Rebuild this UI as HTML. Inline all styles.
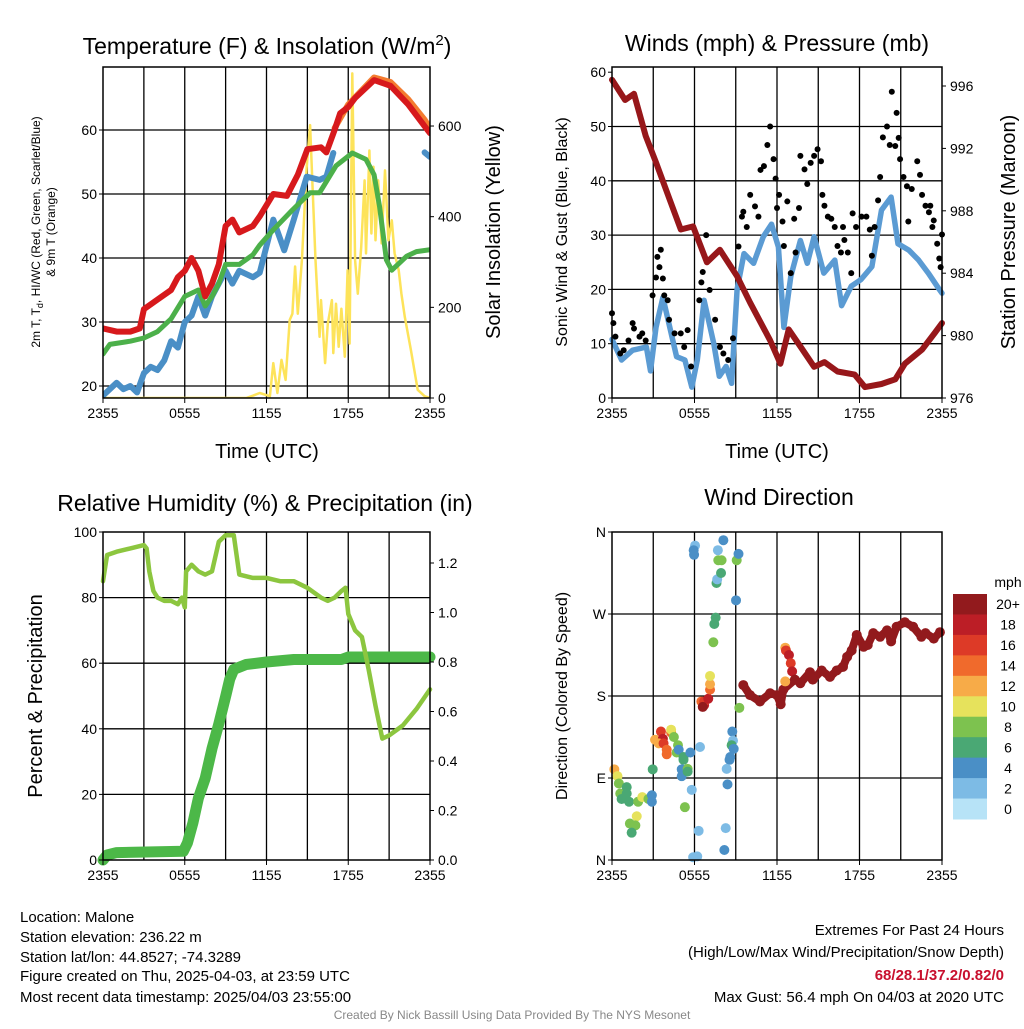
<!DOCTYPE html>
<html><head><meta charset="utf-8"><style>
body{margin:0;background:#fff;}
svg text{font-family:"Liberation Sans",Arial,sans-serif;fill:#000;}
</style></head><body>
<svg id="c" width="1024" height="1024" xmlns="http://www.w3.org/2000/svg"></svg>
<script>
// ---- data (hours since 2355 UTC) ----
const xTickHours=[0,6,12,18,24];
const xTickLabels=["2355","0555","1155","1755","2355"];
const redH=[0,1,2,2.7,3,4,5,5.5,6,6.5,7,7.5,8,8.5,9,9.5,10,11,11.5,12.5,13.5,14.3,15,16,16.4,17,17.4,18,18.5,19.9,21.1,22.4,23.6,24];
const redV=[29,28.5,28.5,29,32,33.5,35,37,38,40,38,34,36,39,45,46,44,45,46.5,50,49.7,53,57,57.3,56.5,60,62.6,63.6,65,67.8,66.9,64,60.6,59.5];
const orangeH=[17,18,19.9,21.1,22.4,23.6,24];
const orangeV=[60.3,64,68.2,67.5,64.8,61.6,60.3];
const greenH=[0,0.5,2,3,4,5,6,7,7.5,8,8.5,9,10,11,11.5,12.5,13.9,15.2,15.9,17.1,18.3,19.3,19.9,20.3,20.8,21.2,22.3,23,24];
const greenV=[25,26.5,27,27.5,28.5,30.5,34,35,32.5,34,36,39,39,40.5,42,44.4,47.5,50.2,50.2,54.4,56.4,55.4,53,48,39.7,38.1,40.3,41,41.3];
const blueH=[0,0.5,1,1.5,2,2.5,3,3.5,4,4.5,5,5.5,6,6.5,7,7.5,8,8.5,9,9.5,10,11,11.5,12.5,13.3,14,14.95,15.9,16.4,16.9];
const blueV=[18.5,19.5,20.5,19.5,20,19,22,23,22.5,24,27,26,30,31,34,31,34,36,38,36,38,37,37.7,46,41.2,46,52.7,52.2,52.7,56.4];
const blue2H=[23.6,24];
const blue2V=[56.5,55.8];
const solarH=[0,10.5,11,11.5,12.25,12.5,12.8,13.1,13.4,13.7,13.9,14.1,14.3,14.6,14.95,15.2,15.4,15.6,15.9,16.0,16.3,16.5,16.8,16.9,17.1,17.3,17.5,17.75,17.95,18.1,18.3,18.5,18.7,18.95,19.2,19.3,19.55,19.7,19.85,20.0,20.2,20.45,20.7,20.95,21.2,21.4,21.7,21.9,22.15,22.6,23.1,23.6,24];
const solarV=[0,0,5,11,4,77,11,84,40,172,186,290,186,304,510,602,452,304,135,216,77,164,216,99,208,113,197,91,282,120,716,304,230,333,480,319,546,363,510,348,480,341,502,348,392,319,282,230,179,106,18,4,0];
const windH=[0,0.7,1.5,2.5,2.8,3.2,3.7,4.2,4.7,5.3,5.8,6.2,6.7,7.4,7.8,8.3,8.7,9.1,9.6,10.3,11,11.6,12.1,12.5,13,13.7,14.2,14.7,15.4,16.2,16.7,17.4,18.1,18.9,19.6,20.3,20.8,21.6,22.3,23,23.8,24];
const windV=[10.8,7,8.8,9.4,5,13,18.5,13,7.6,7,2,7,18,10,4,5.8,2.7,20,26.6,24.8,29.7,32,27.8,13,22.4,29,24.8,29.7,23,25.4,17,20.6,21.8,24.2,34.6,37,28.4,27.2,25.4,23,20,19.3];
const gustH=[0,0.1,0.25,0.6,0.85,1.2,1.5,1.6,2.0,2.2,2.45,2.95,3.2,3.3,3.45,3.55,3.7,3.8,4.05,4.15,4.55,5.0,5.25,5.5,5.75,6.35,6.5,6.6,6.85,7.1,7.5,7.85,8.1,8.45,8.8,9.2,9.45,9.55,9.8,10.05,10.4,10.65,10.8,11.05,11.3,11.5,11.75,11.9,12.0,12.15,12.4,12.5,12.75,13.0,13.25,13.35,13.6,13.7,14.0,14.2,14.45,14.7,14.95,15.2,15.3,15.45,15.7,15.95,16.2,16.4,16.65,16.8,16.9,17.15,17.4,17.5,17.75,18.15,18.5,18.75,18.9,19.1,19.35,19.5,19.7,20.0,20.2,20.35,20.6,20.7,20.85,20.95,21.2,21.45,21.55,21.8,22.2,22.4,22.55,22.8,23.05,23.15,23.3,23.4,23.65,23.8,23.9,24];
const gustV=[15.6,13.8,11.3,8.2,8.8,10.6,13.8,12.8,11.3,11.9,10.6,18.9,22.2,26,24.1,27.3,22,18.9,18,14.4,11.9,11.9,9.4,12.5,5.8,18,21.3,23.2,30,19.9,14.4,9.4,8.2,7,11,27.9,33.4,34.3,31.5,37.4,35.3,33.4,42,42.7,46.6,50,44,40.4,35,37.4,32.5,28,36.2,23,33,26.8,35,44.6,42.1,39.4,43.3,44.6,45.8,43.6,37.4,35.4,33.4,33,31.5,28,26.8,31.5,29.1,26.8,23,34,31.5,33.4,33.4,31,26.2,31.5,36.4,40.7,48,50,46.6,56.4,46.4,52.5,47.9,44,40.7,39,32.5,38.5,43.6,41.1,37.4,35.4,34.2,35.4,31.5,32.7,28.4,25.7,24.1,30.1];
const presH=[0,0.95,1.6,2.45,3.2,4.2,5.0,5.9,6.9,7.85,9.1,10.05,11.5,12.25,12.85,13.7,14.7,15.45,16.4,17.65,18.4,19.6,20.6,21.3,22.55,23.5,24];
const presV=[996.4,995.1,995.5,992.8,991.1,988.7,986.8,987,984.7,985.5,983.8,982.1,979.7,978.2,980.4,979.3,978,978.3,977.7,977.5,976.7,976.9,977.2,978.2,979.1,980.2,980.8];
const rhH=[0,0.3,1,2,3,3.2,3.4,3.7,4,4.5,5,5.5,5.8,6,6.1,6.5,7,7.5,8,8.5,9,9.6,10,11,12,13,14,15,16,16.5,17,17.5,17.8,18,18.5,19,19.5,20,20.5,21,22,23,24];
const rhV=[85,93,94,95,96,95,88,82,80,79,79,78,80,77,88,90,88,87,88,97,99,99,87,86,86,85,85,83,80,79,80,82,83,75,70,68,58,47,37,38,41,46,52];
const precipH=[0,0.3,1,5.9,6.2,6.6,7,7.5,8,8.5,9,9.3,9.6,10.5,12,14,17.5,18,24];
const precipV=[0,0.02,0.03,0.035,0.07,0.15,0.25,0.33,0.45,0.55,0.66,0.73,0.77,0.79,0.8,0.81,0.81,0.82,0.82];
const dirH=[0.17,0.4,0.5,0.6,0.7,1.07,1.07,1.24,1.9,2.2,2.65,2.9,2.9,1.8,1.3,1.7,1.43,2.96,3.13,3.56,3.7,3.4,3.75,3.98,3.98,4.3,4.3,4.5,4.8,4.7,4.85,5.2,5.2,5.7,5.07,5.07,5.5,5.5,5.8,5.3,6.4,6.3,5.9,6.2,6.5,6.7,6.7,7,6.6,7.13,7.13,7.13,7.37,7.44,7.54,7.6,7.65,7.93,7.73,7.97,7.7,8.1,6.04,5.94,5.97,9.07,9.2,9.02,9.26,8.75,8.8,8.7,8.85,8.6,8.55,8.34,8.4,8.27,8.17,
 9.55,10.04,10.76,11.5,12,12.27,12.46,12.6,12.65,12.87,13.0,13.1,12.6,13.3,13.7,14.4,14.6,15.25,15.85,16.34,16.8,17.1,17.43,17.8,18.3,18.6,19,19.5,20,20.3,20.7,21.3,21.9,22.5,22.8,23.4,23.85];
const dirV=[99.5,92,84,73,67,73,80,64,64,69,67,64,71,48,40,38,30,99.5,132,141,133,128,128,121,116,140,143,135,126,118,121,113,110,118,99.5,92,100,97,77,58,124,32,3,4,174,170,174,177,168,187,193,202,239,259,266,304,308,315,329,329,340,351,345,340,335,329,336,285,167,141,131,126,122,113,110,100,83,35,11,
 192,181,174,183,181,171,187,233,230,225,216,207,196,198,194,206,198,208,201,208,212,223,230,247,234,236,249,245,252,240,256,261,256,245,249,243,250];
const dirSpd=[12,10,8,8,6,6,6,6,8,10,8,4,4,10,8,8,6,6,12,16,18,12,16,14,14,14,10,8,8,8,4,6,6,4,4,4,8,6,2,8,2,2,2,2,14,18,16,18,20,14,12,10,8,6,6,6,2,6,8,8,2,4,2,4,4,8,4,4,8,4,2,6,4,4,4,2,4,2,4,
 20,20,20,20,20,20,20,12,16,18,16,18,12,20,20,20,20,20,20,20,20,20,20,20,20,20,20,20,20,20,20,20,20,20,20,20,20];
const cbLabels=["20+","18","16","14","12","10","8","6","4","2","0"];
const cbColors=["#921a1d","#bc1e26","#dd3a27","#f06a2c","#f7ab48","#e6e25c","#7dc24f","#4aa874","#4a8fc6","#7dbbe5","#b7e3f7"];

const NS="http://www.w3.org/2000/svg";
const svg=document.getElementById('c');
function mk(tag,attrs,parent){const e=document.createElementNS(NS,tag);for(const k in attrs)e.setAttribute(k,attrs[k]);(parent||svg).appendChild(e);return e;}
function txt(x,y,s,size,opts,parent){opts=opts||{};const a={x:x,y:y,'font-size':size,'text-anchor':opts.anchor||'middle'};if(opts.rot!==undefined)a.transform='rotate('+opts.rot+' '+x+' '+y+')';if(opts.fill)a.style='fill:'+opts.fill;if(opts.weight)a['font-weight']=opts.weight;const t=mk('text',a,parent);t.textContent=s;return t;}
function pathFrom(H,V,fx,fy){let d='';for(let i=0;i<H.length;i++){d+=(i?'L':'M')+fx(H[i]).toFixed(1)+' '+fy(V[i]).toFixed(1);}return d;}

function panel(name,xL,xR,yT,yB,fxH){
  const g=mk('g',{});
  
  
  const grid=mk('g',{stroke:'#000','stroke-width':1.3},g);
  
  
  for(let h=3;h<24;h+=3){mk('line',{x1:fxH(h),x2:fxH(h),y1:yT,y2:yB},grid);}
  return {g:g,grid:grid};
}
function frame(g,xL,xR,yT,yB){const r=mk('rect',{x:xL,y:yT,width:xR-xL,height:yB-yT,fill:'none',stroke:'#000','stroke-width':1.5},g);}
function xAxis(g,fxH,yB){for(let i=0;i<xTickHours.length;i++){const t=txt(fxH(xTickHours[i]),yB+20,xTickLabels[i],14,{},g);mk('line',{x1:fxH(xTickHours[i]),x2:fxH(xTickHours[i]),y1:yB,y2:yB+5,stroke:'#000'},g);}}
function hgrid(grid,xL,xR,ys){ys.forEach(y=>mk('line',{x1:xL,x2:xR,y1:y,y2:y},grid));}
function yTicks(g,x,vals,labels,fy,side){for(let i=0;i<vals.length;i++){const y=fy(vals[i]);const t=txt(side<0?x-6:x+8,y+5,labels[i],14,{anchor:side<0?'end':'start'},g);mk('line',{x1:x,x2:x+side*4,y1:y,y2:y,stroke:'#000'},g);}}

// ---------- Panel 1 ----------
(function(){
const xL=103,xR=430,yT=67,yB=398;
const fx=h=>xL+h*(xR-xL)/24, fy=v=>386-(v-20)*6.4, fs=w=>398-w*0.4533;
const p=panel('temperature-panel',xL,xR,yT,yB,fx);
hgrid(p.grid,xL,xR,[20,30,40,50,60].map(fy));
const defs=mk('clipPath',{id:'cp1'});mk('rect',{x:xL,y:yT,width:xR-xL,height:yB-yT},defs);
const s=mk('g',{'clip-path':'url(#cp1)',fill:'none','stroke-linejoin':'round','stroke-linecap':'round'},p.g);
let e;
e=mk('path',{d:pathFrom(solarH,solarV,fx,fs),stroke:'#fde35a','stroke-width':2.5},s);
e=mk('path',{d:pathFrom(blueH,blueV,fx,fy),stroke:'#4a8fc6','stroke-width':6},s);
e=mk('path',{d:pathFrom(blue2H,blue2V,fx,fy),stroke:'#4a8fc6','stroke-width':6},s);
e=mk('path',{d:pathFrom(greenH,greenV,fx,fy),stroke:'#4cb04a','stroke-width':5},s);
e=mk('path',{d:pathFrom(orangeH,orangeV,fx,fy),stroke:'#f47c30','stroke-width':6},s);
e=mk('path',{d:pathFrom(redH,redV,fx,fy),stroke:'#d7191c','stroke-width':6},s);
frame(p.g,xL,xR,yT,yB);xAxis(p.g,fx,yB);
yTicks(p.g,xL,[20,30,40,50,60],["20","30","40","50","60"],fy,-1);
yTicks(p.g,xR,[0,200,400,600],["0","200","400","600"],fs,1);
e=txt(267,54,"",23,{},p.g);e.innerHTML='Temperature (F) &amp; Insolation (W/m<tspan dy="-9" font-size="15">2</tspan><tspan dy="9">)</tspan>';
e=txt(267,458,"Time (UTC)",20,{},p.g);
e=txt(40,232,"",12,{rot:-90},p.g);e.innerHTML='2m T, T<tspan dy="3" font-size="9">d</tspan><tspan dy="-3">, HI/WC (Red, Green, Scarlet/Blue)</tspan>';
e=txt(55,232,"& 9m T (Orange)",12,{rot:-90},p.g);
e=txt(500,232,"Solar Insolation (Yellow)",20,{rot:-90},p.g);
})();

// ---------- Panel 2 ----------
(function(){
const xL=612,xR=942,yT=67,yB=398;
const fx=h=>xL+h*(xR-xL)/24, fy=v=>398-v*5.43, fp=p=>398-(p-976)*15.6;
const p=panel('wind-panel',xL,xR,yT,yB,fx);
hgrid(p.grid,xL,xR,[10,20,30,40,50].map(fy));
const s=mk('g',{fill:'none','stroke-linejoin':'round','stroke-linecap':'round'},p.g);
let e;
e=mk('path',{d:pathFrom(windH,windV,fx,fy),stroke:'#5b9bd3','stroke-width':5.5},s);
const gg=mk('g',{fill:'#000'},p.g);
for(let i=0;i<gustH.length;i++){const c=mk('circle',{cx:fx(gustH[i]),cy:fy(gustV[i]),r:3},gg);}
e=mk('path',{d:pathFrom(presH,presV,fx,fp),stroke:'#97171a','stroke-width':6,fill:'none','stroke-linejoin':'round','stroke-linecap':'round'},p.g);
frame(p.g,xL,xR,yT,yB);xAxis(p.g,fx,yB);
yTicks(p.g,xL,[0,10,20,30,40,50,60],["0","10","20","30","40","50","60"],fy,-1);
yTicks(p.g,xR,[976,980,984,988,992,996],["976","980","984","988","992","996"],fp,1);
e=txt(777,51,"Winds (mph) & Pressure (mb)",23,{},p.g);
e=txt(777,458,"Time (UTC)",20,{},p.g);
e=txt(567,232,"Sonic Wind & Gust (Blue, Black)",16,{rot:-90},p.g);
e=txt(1015,232,"Station Pressure (Maroon)",20,{rot:-90},p.g);
})();

// ---------- Panel 3 ----------
(function(){
const xL=103,xR=430,yT=532,yB=860;
const fx=h=>xL+h*(xR-xL)/24, fy=v=>860-v*3.28, fp=v=>860-v*247.5;
const p=panel('humidity-panel',xL,xR,yT,yB,fx);
hgrid(p.grid,xL,xR,[20,40,60,80].map(fy));
let e;
e=mk('path',{d:pathFrom(precipH,precipV,fx,fp),stroke:'#4cb848','stroke-width':11,fill:'none','stroke-linejoin':'round','stroke-linecap':'round'},p.g);
e=mk('path',{d:pathFrom(rhH,rhV,fx,fy),stroke:'#8cc63f','stroke-width':4.5,fill:'none','stroke-linejoin':'round','stroke-linecap':'round'},p.g);
frame(p.g,xL,xR,yT,yB);xAxis(p.g,fx,yB);
yTicks(p.g,xL,[0,20,40,60,80,100],["0","20","40","60","80","100"],fy,-1);
yTicks(p.g,xR,[0,0.2,0.4,0.6,0.8,1.0,1.2],["0.0","0.2","0.4","0.6","0.8","1.0","1.2"],fp,1);
e=txt(265,511,"Relative Humidity (%) & Precipitation (in)",23,{},p.g);
e=txt(42,696,"Percent & Precipitation",20,{rot:-90},p.g);
})();

// ---------- Panel 4 ----------
(function(){
const xL=612,xR=942,yT=532,yB=860;
const fx=h=>xL+h*(xR-xL)/24, fy=d=>860-d*328/360;
const p=panel('wind-direction-panel',xL,xR,yT,yB,fx);
hgrid(p.grid,xL,xR,[90,180,270].map(fy));
const col=s=>cbColors[10-Math.min(10,Math.floor(s/2))];
// connecting band behind sustained 20+ mph tail
const tH=[],tV=[];
for(let i=0;i<dirH.length;i++){if(dirH[i]>=9.5&&dirSpd[i]>=20){tH.push(dirH[i]);tV.push(dirV[i]);}}
let e=mk('path',{d:pathFrom(tH,tV,fx,fy),stroke:'#921a1d','stroke-width':8,fill:'none','stroke-linejoin':'round','stroke-linecap':'round'},p.g);


const gg=mk('g',{},p.g);
for(let i=0;i<dirH.length;i++){const c=mk('circle',{cx:fx(dirH[i]),cy:fy(dirV[i]),r:5,fill:col(dirSpd[i])},gg);}
frame(p.g,xL,xR,yT,yB);xAxis(p.g,fx,yB);
yTicks(p.g,xL,[0,90,180,270,360],["N","E","S","W","N"],fy,-1);
e=txt(779,505,"Wind Direction",23,{},p.g);
e=txt(567,696,"Direction (Colored By Speed)",16,{rot:-90},p.g);
const cb=mk('g',{},p.g);
const bh=(819-594)/cbColors.length;
for(let i=0;i<cbColors.length;i++){const r=mk('rect',{x:953,y:594+i*bh,width:34,height:bh+0.5,fill:cbColors[i]},cb);
const t=txt(1008,594+i*bh+bh/2+5,cbLabels[i],14,{},cb);}
e=txt(1008,587,"mph",14,{},cb);
})();

// ---------- Footer text ----------
(function(){
const info=["Location: Malone","Station elevation: 236.22 m","Station lat/lon: 44.8527; -74.3289","Figure created on Thu, 2025-04-03, at 23:59 UTC","Most recent data timestamp: 2025/04/03 23:55:00"];
const ys=[922,942,962,981,1002];
info.forEach((s,i)=>{const t=txt(20,ys[i],s,15,{anchor:'start'});});
let t=txt(1004,935,"Extremes For Past 24 Hours",15,{anchor:'end'});
t=txt(1004,957,"(High/Low/Max Wind/Precipitation/Snow Depth)",15,{anchor:'end'});
t=txt(1004,980,"68/28.1/37.2/0.82/0",15,{anchor:'end',fill:'#c8102e',weight:'bold'});
t=txt(1004,1002,"Max Gust: 56.4 mph On 04/03 at 2020 UTC",15,{anchor:'end'});
t=txt(512,1019,"Created By Nick Bassill Using Data Provided By The NYS Mesonet",12,{fill:'#888'});
})();
</script>
</body></html>
